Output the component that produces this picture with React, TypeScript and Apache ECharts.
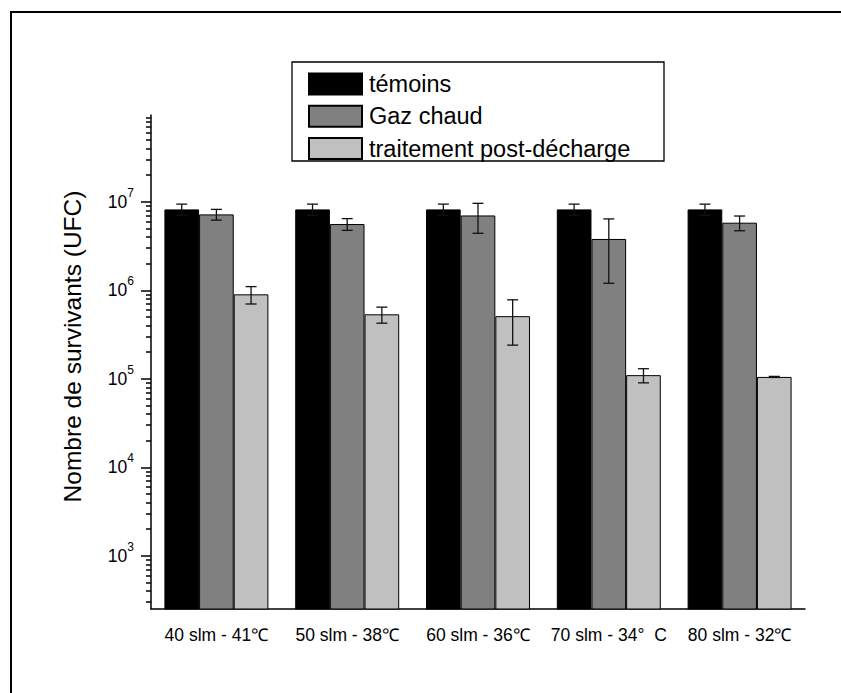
import React, { useEffect, useRef } from 'react';
import * as echarts from 'echarts';

const categories = ['40 slm - 41℃', '50 slm - 38℃', '60 slm - 36℃', '70 slm - 34°\u00a0\u00a0C', '80 slm - 32℃'];
const seriesNames = ['témoins', 'Gaz chaud', 'traitement post-décharge'];
const seriesColors = ['#000000', '#808080', '#c0c0c0'];
const temoins = [8.2e6, 8.2e6, 8.2e6, 8.2e6, 8.2e6];
const temoinsErr = [1.2e6, 1.2e6, 1.2e6, 1.2e6, 1.2e6];
const gazChaud = [7.2e6, 5.6e6, 7.0e6, 3.8e6, 5.8e6];
const gazChaudErr = [1.0e6, 0.85e6, 2.6e6, 2.6e6, 1.1e6];
const postDecharge = [9.0e5, 5.35e5, 5.1e5, 1.1e5, 1.05e5];
const postDechargeErr = [2.0e5, 1.1e5, 2.7e5, 2.0e4, 1.5e3];
const yMajorTicks = [1e3, 1e4, 1e5, 1e6, 1e7];
const yMinorMultipliers = [2, 3, 4, 5, 6, 7, 8, 9];
const yMinorDecades = [1e2, 1e3, 1e4, 1e5, 1e6, 1e7];
const yMin = 251;
const yMax = 9.55e7;
const yTitle = 'Nombre de survivants (UFC)';

const FONT = 'Liberation Sans, Arial, Helvetica, sans-serif';
const BAR_FRAC = 0.265;

export default function App() {
  const ref = useRef<HTMLDivElement>(null);
  useEffect(() => {
    if (!ref.current) return;
    const chart = echarts.init(ref.current, undefined, { renderer: 'svg' });
    const values = [temoins, gazChaud, postDecharge];
    const errs = [temoinsErr, gazChaudErr, postDechargeErr];
    const minorTicks: number[] = [];
    yMinorDecades.forEach((d) => yMinorMultipliers.forEach((m) => {
      const v = m * d;
      if (v >= yMin && v <= yMax) minorTicks.push(v);
    }));
    const errData: number[][] = [];
    values.forEach((arr, s) => arr.forEach((v, i) => errData.push([i, v, errs[s][i], s])));

    const barSeries = seriesNames.map((name, s) => ({
      name,
      type: 'bar',
      xAxisIndex: 0,
      yAxisIndex: 0,
      data: values[s],
      barWidth: BAR_FRAC * 100 + '%',
      barGap: '0%',
      itemStyle: { color: seriesColors[s], borderColor: '#000', borderWidth: 1 },
      z: 2,
    }));

    const lineStyle = { stroke: '#111', lineWidth: 1.3 };
    chart.setOption({
      animation: false,
      backgroundColor: '#fff',
      grid: { left: 151, top: 115, right: 36, bottom: 84, containLabel: false },
      legend: {
        data: seriesNames,
        orient: 'vertical',
        left: 308,
        top: 72,
        padding: 0,
        itemWidth: 53,
        itemHeight: 21,
        itemGap: 8.3,
        icon: 'rect',
        textStyle: { fontFamily: FONT, fontSize: 23.5, color: '#000', padding: [0, 0, 0, 2] },
      },
      xAxis: [
        {
          type: 'category',
          data: categories,
          position: 'bottom',
          axisLine: { lineStyle: { color: '#000', width: 1.5 } },
          axisTick: { alignWithLabel: true, length: 9, lineStyle: { color: '#000', width: 1.5 } },
          axisLabel: { fontFamily: FONT, fontSize: 17.5, color: '#000', margin: 17, interval: 0 },
          splitLine: { show: false },
        },
        {
          type: 'category',
          data: categories,
          position: 'bottom',
          axisLine: { show: false },
          axisTick: { length: 5, lineStyle: { color: '#000', width: 1.5 } },
          axisLabel: { show: false },
          splitLine: { show: false },
        },
      ],
      yAxis: [
        {
          type: 'log',
          logBase: 10,
          min: yMin,
          max: yMax,
          position: 'left',
          name: yTitle,
          nameLocation: 'middle',
          nameRotate: 90,
          nameGap: 66,
          nameTextStyle: { fontFamily: FONT, fontSize: 24.5, color: '#000', padding: [0, 0, 0, 31] },
          axisLine: { show: true, lineStyle: { color: '#000', width: 1.5 } },
          axisTick: { show: true, length: 10, customValues: yMajorTicks, lineStyle: { color: '#000', width: 1.5 } },
          axisLabel: {
            customValues: yMajorTicks,
            margin: 17,
            formatter: (v: number) => `{b|10}{s|${Math.round(Math.log10(v))}}`,
            rich: {
              b: { fontFamily: FONT, fontSize: 17.5, color: '#000', lineHeight: 30 },
              s: { fontFamily: FONT, fontSize: 12, color: '#000', lineHeight: 12, verticalAlign: 'top' },
            },
          },
          splitLine: { show: false },
        },
        {
          type: 'log',
          logBase: 10,
          min: yMin,
          max: yMax,
          position: 'left',
          axisLine: { show: false },
          axisTick: { show: true, length: 5, customValues: minorTicks, lineStyle: { color: '#000', width: 1.5 } },
          axisLabel: { show: false },
          splitLine: { show: false },
        },
      ],
      graphic: [
        {
          type: 'rect',
          shape: { x: 11, y: 12, width: 900, height: 800 },
          style: { fill: 'none', stroke: '#000', lineWidth: 2 },
          z: -10,
        },
        {
          type: 'rect',
          shape: { x: 292, y: 62, width: 372, height: 99 },
          style: { fill: 'none', stroke: '#000', lineWidth: 1.3 },
          z: 10,
        },
      ],
      series: [
        ...barSeries,
        {
          name: 'errors',
          type: 'custom',
          xAxisIndex: 0,
          yAxisIndex: 0,
          data: errData,
          encode: { x: 0, y: 1 },
          z: 5,
          renderItem: (params: any, api: any) => {
            const cat = api.value(0);
            const v = api.value(1);
            const e = api.value(2);
            const s = api.value(3);
            const p = api.coord([cat, v]);
            const band = api.coord([1, v])[0] - api.coord([0, v])[0];
            const w = band * BAR_FRAC;
            const x = p[0] + (s - 1) * w;
            const yTop = api.coord([cat, v + e])[1];
            const yBot = api.coord([cat, Math.max(v - e, yMin)])[1];
            const cap = 5.5;
            return {
              type: 'group',
              children: [
                { type: 'line', shape: { x1: x, y1: yTop, x2: x, y2: yBot }, style: lineStyle },
                { type: 'line', shape: { x1: x - cap, y1: yTop, x2: x + cap, y2: yTop }, style: lineStyle },
                { type: 'line', shape: { x1: x - cap, y1: yBot, x2: x + cap, y2: yBot }, style: lineStyle },
              ],
            };
          },
        },
      ],
    } as any);
    return () => chart.dispose();
  }, []);
  return <div ref={ref} style={{ width: 841, height: 693, position: 'absolute', left: 0, top: 0 }} />;
}
